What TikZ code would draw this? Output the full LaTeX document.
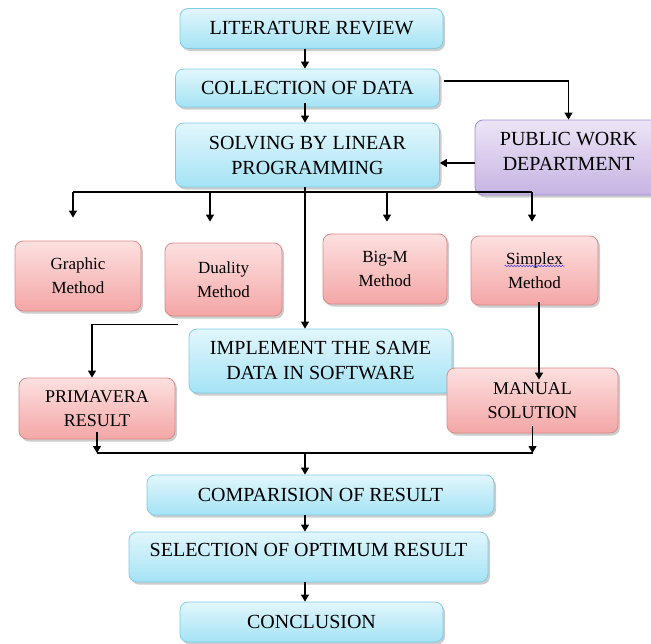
\documentclass[tikz,border=0pt]{standalone}
\usepackage{fontspec}
\setmainfont{Liberation Serif}
\usetikzlibrary{arrows.meta,shadows,decorations.pathmorphing}

\definecolor{bluetop}{HTML}{E2F6FC}
\definecolor{bluebot}{HTML}{A4E3F5}
\definecolor{blueline}{HTML}{7FCDE4}
\definecolor{redtop}{HTML}{FDE0E0}
\definecolor{redbot}{HTML}{F4A6A6}
\definecolor{redline}{HTML}{D98A88}
\definecolor{purtop}{HTML}{EDE5F6}
\definecolor{purbot}{HTML}{C6B3E3}
\definecolor{purline}{HTML}{A28DCB}

\begin{document}
\begin{tikzpicture}[
  x=1pt, y=-1pt,
  box/.style={rectangle, rounded corners=8pt, line width=0.8pt, align=center, inner sep=2pt,
    drop shadow={shadow xshift=2pt, shadow yshift=-2.5pt, opacity=0.4}},
  bluebox/.style={box, draw=blueline, top color=bluetop, bottom color=bluebot, font=\fontsize{20}{25}\selectfont},
  redbox/.style={box, draw=redline, top color=redtop, bottom color=redbot, font=\fontsize{18}{24}\selectfont},
  method/.style={redbox, font=\fontsize{17}{24}\selectfont},
  purbox/.style={box, draw=purline, top color=purtop, bottom color=purbot, font=\fontsize{20}{25}\selectfont},
  ar/.style={-{Triangle[length=7pt,width=8pt]}, line width=1.1pt},
  ln/.style={line width=1.1pt},
  spell/.style={draw=blue!75, line width=0.5pt, decorate, decoration={snake, amplitude=0.8pt, segment length=3pt}}
]
\useasboundingbox (0,0) rectangle (651,643);

% main column
\node[bluebox, minimum width=263pt, minimum height=40pt] (lit) at (311.5,28.5) {LITERATURE REVIEW};
\node[bluebox, minimum width=264pt, minimum height=38pt] (col) at (307.5,88)   {COLLECTION OF DATA};
\node[bluebox, minimum width=264pt, minimum height=64pt] (slv) at (307.5,155)  {SOLVING BY LINEAR\\PROGRAMMING};
\node[purbox,  minimum width=187pt, minimum height=75pt, text depth=13pt] (pwd) at (568.5,157.5) {PUBLIC WORK\\DEPARTMENT};

% methods
\node[method, minimum width=126pt, minimum height=70pt] (grp) at (78,276)     {Graphic\\Method};
\node[method, minimum width=117pt, minimum height=73pt] (dua) at (223.5,279.5) {Duality\\Method};
\node[method, minimum width=124pt, minimum height=70pt] (bgm) at (385,269)    {Big-M\\Method};
\node[method, minimum width=127pt, minimum height=69pt] (smp) at (534.5,270.5) {Simplex\\Method};
\draw[spell] ([xshift=-30pt,yshift=4.5pt]smp.center) -- ([xshift=30pt,yshift=4.5pt]smp.center);

% software / manual
\node[bluebox, minimum width=263pt, minimum height=64pt] (imp) at (320.5,361)   {IMPLEMENT THE SAME\\DATA IN SOFTWARE};
\node[redbox,  minimum width=156pt, minimum height=61pt] (pri) at (97,408.5)    {PRIMAVERA\\RESULT};
\node[redbox,  minimum width=171pt, minimum height=65pt] (man) at (532.5,400.5) {MANUAL\\SOLUTION};

% results
\node[bluebox, minimum width=347pt, minimum height=40pt] (cmp) at (320.5,495) {COMPARISION OF RESULT};
\node[bluebox, minimum width=359pt, text height=22pt, text depth=24pt] (sel) at (308.5,557) {SELECTION OF OPTIMUM RESULT};
\node[bluebox, minimum width=263pt, minimum height=40pt] (con) at (311.5,622) {CONCLUSION};

% helper points
\coordinate (spine) at (305,0);
\coordinate (bus)   at (0,192);
\coordinate (bus2)  at (0,453);
\coordinate (pw) at ([yshift=-5.5pt]pwd.west);
\coordinate (g0) at ([xshift=-5pt,yshift=23pt]grp.north);
\coordinate (d0) at ([xshift=-13.5pt,yshift=21pt]dua.north);
\coordinate (b0) at ([xshift=2pt,yshift=12pt]bgm.north);
\coordinate (s0) at ([xshift=-2.5pt,yshift=14pt]smp.north);
\coordinate (dl) at ([xshift=13pt,yshift=-8pt]dua.south west);

% arrows
\draw[ar] (lit.south -| spine) -- (col.north -| spine);
\draw[ar] ([yshift=4pt]col.south -| spine) -- (slv.north -| spine);
\draw[ar] ([xshift=4pt,yshift=7pt]col.east) -| (pwd.north);
\draw[ar] (pw) -- (pw -| slv.east);
\draw[ln] (g0 |- bus) -- (s0 |- bus);
\draw[ar] (g0 |- bus) -- (g0);
\draw[ar] (d0 |- bus) -- (d0);
\draw[ar] (b0 |- bus) -- (b0);
\draw[ar] (s0 |- bus) -- (s0);
\draw[ar] (slv.south -| spine) -- (imp.north -| spine);
\draw[ar] (dl) -| ([xshift=-5pt]pri.north);
\draw[ar] ([xshift=4.5pt,yshift=3pt]smp.south) -- ([xshift=6.5pt,yshift=-12pt]man.north);
\draw[ar] ([yshift=7pt]pri.south) -- (pri.south |- bus2);
\draw[ar] ([yshift=7pt]man.south) -- (man.south |- bus2);
\draw[ln] (pri.south |- bus2) -- (man.south |- bus2);
\draw[ar] (spine |- bus2) -- (cmp.north -| spine);
\draw[ar] (cmp.south -| spine) -- (sel.north -| spine);
\draw[ar] (sel.south -| spine) -- (con.north -| spine);
\end{tikzpicture}
\end{document}
